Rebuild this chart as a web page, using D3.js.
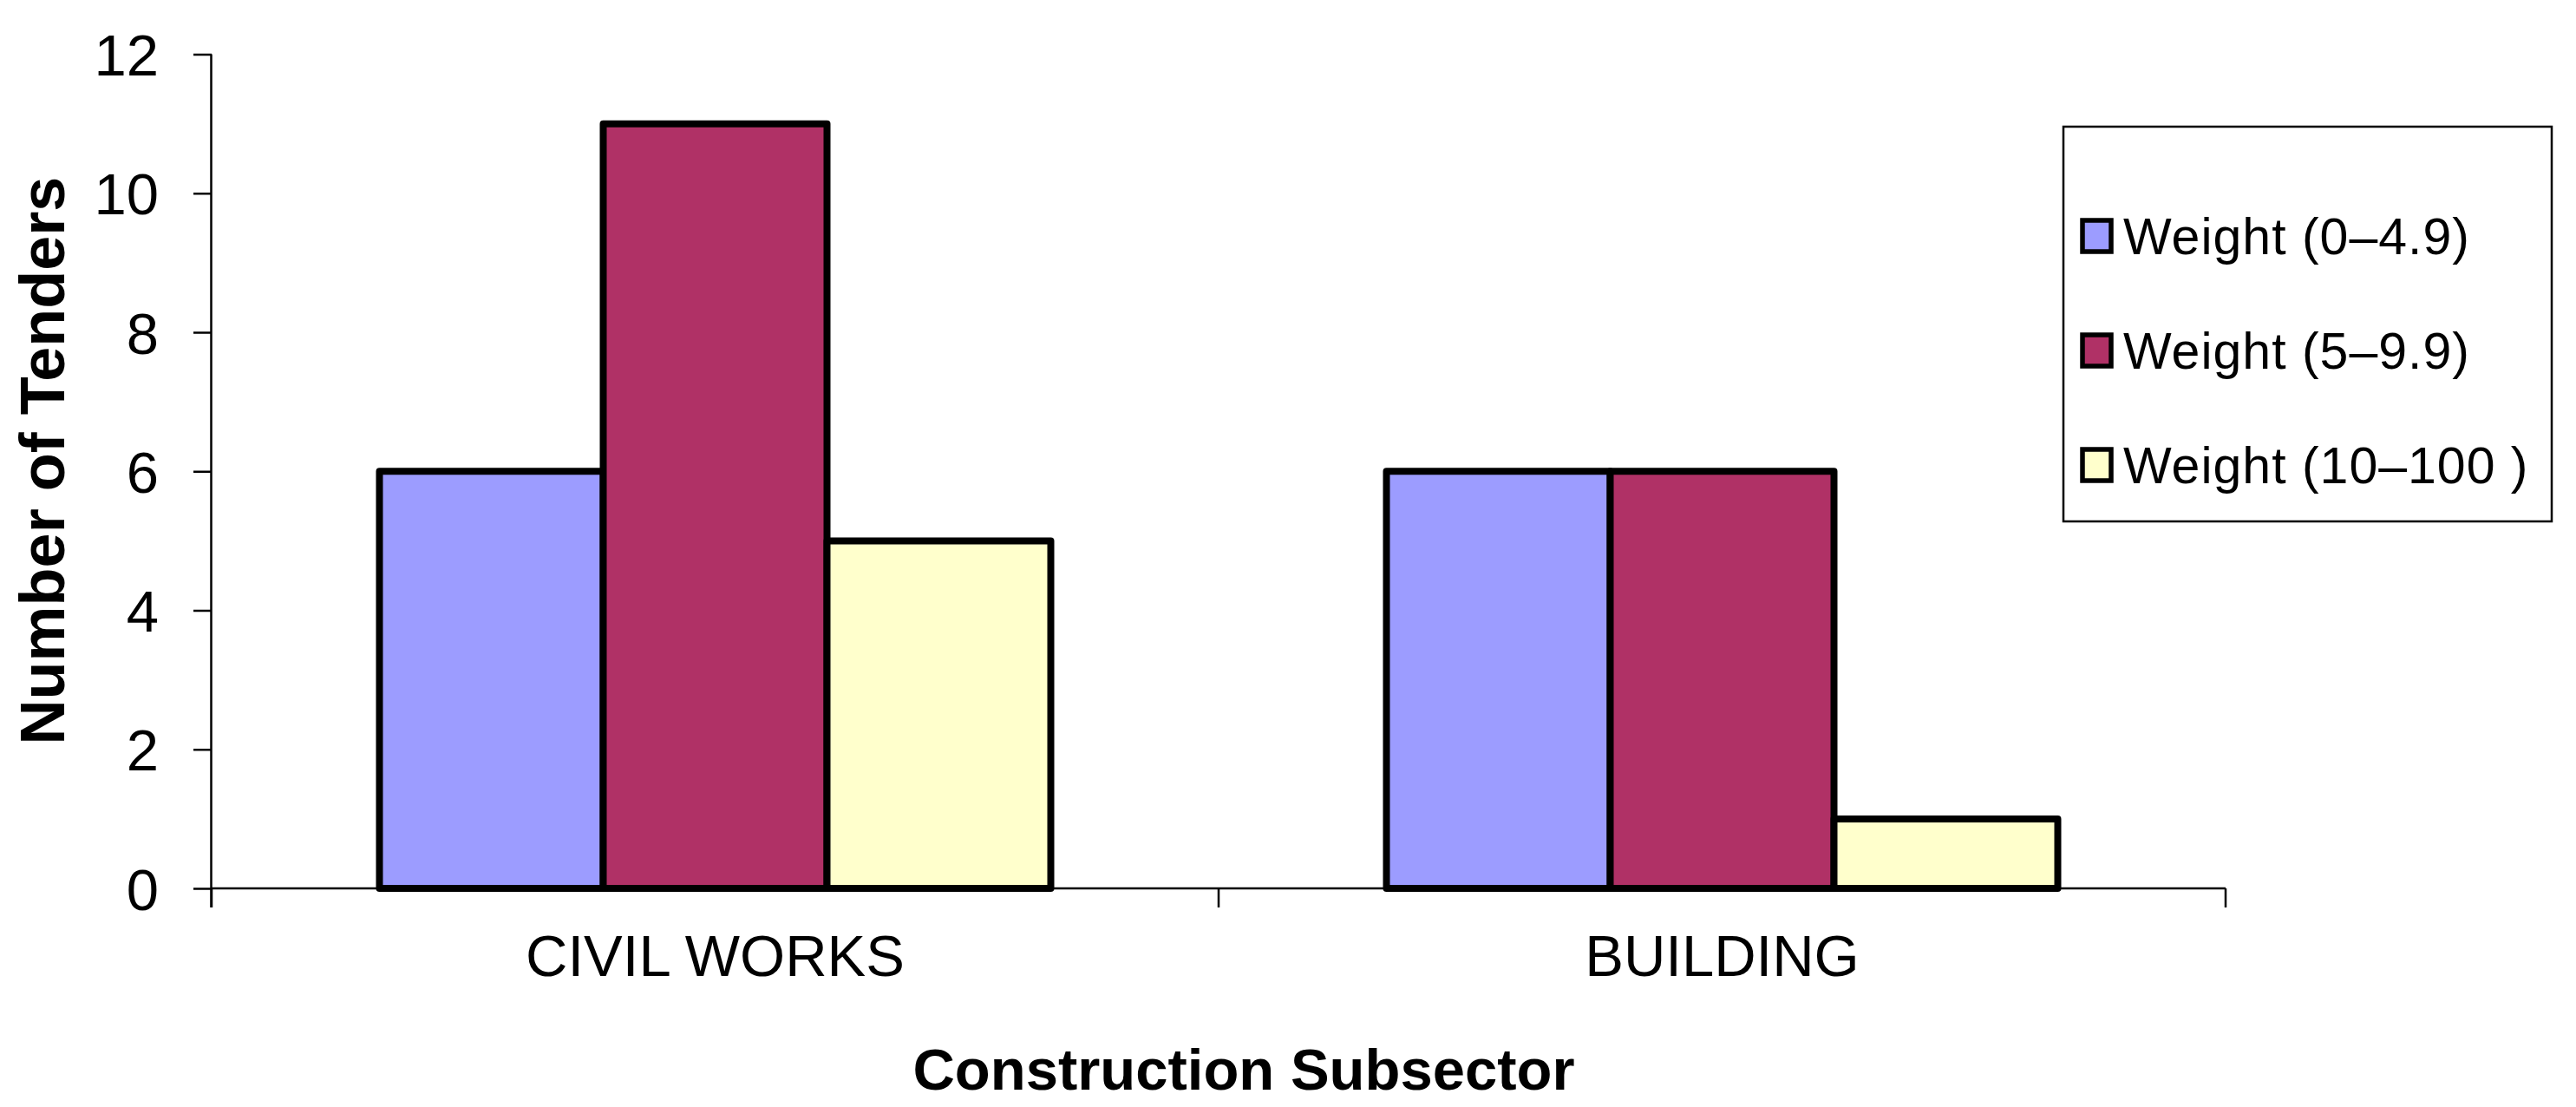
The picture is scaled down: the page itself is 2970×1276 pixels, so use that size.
<!DOCTYPE html>
<html>
<head>
<meta charset="utf-8">
<script src="https://cdn.jsdelivr.net/npm/d3@7"></script>
<style>
  html, body { margin: 0; padding: 0; background: #ffffff; }
  svg { display: block; }
  text { font-family: "Liberation Sans", Arial, sans-serif; fill: #000; }
</style>
</head>
<body>
<svg id="chart" width="2970" height="1276"></svg>
<script>
const categories = ["CIVIL WORKS", "BUILDING"];
const seriesNames = ["Weight (0\u20134.9)", "Weight (5\u20139.9)", "Weight (10\u2013100 )"];
const seriesColors = ["#9C9CFF", "#B03166", "#FFFFCC"];
const weight0to5 = [6, 6];
const weight5to10 = [11, 6];
const weight10to100 = [5, 1];
const yTicks = [0, 2, 4, 6, 8, 10, 12];

const seriesValues = [weight0to5, weight5to10, weight10to100];

const svg = d3.select("#chart");
const plotLeft = 244, plotRight = 2566, plotTop = 62.5, plotBottom = 1024;

const x = d3.scaleBand().domain(categories).range([plotLeft, plotRight]).paddingInner(0).paddingOuter(0);
const y = d3.scaleLinear().domain([0, 12]).range([plotBottom, plotTop]);
const barW = x.bandwidth() / 4.5;
const xs = d3.scaleBand().domain(d3.range(seriesNames.length))
  .range([barW * 0.75, barW * 3.75]).padding(0);

// Y axis
const yAxis = svg.append("g").attr("transform", `translate(${plotLeft},0)`)
  .call(d3.axisLeft(y).tickValues(yTicks).tickSize(21).tickPadding(40).tickFormat(d3.format("d")));
yAxis.select(".domain").attr("stroke", "#000").attr("stroke-width", 2.5)
  .attr("d", `M-0.5,${plotTop}V${plotBottom + 22}`);
yAxis.selectAll(".tick line").attr("stroke", "#000").attr("stroke-width", 2.5);
yAxis.selectAll(".tick text").attr("font-size", 67).attr("dy", "0.36em");

// X axis line and boundary ticks
const xAxisG = svg.append("g");
xAxisG.append("line").attr("x1", plotLeft).attr("x2", plotRight)
  .attr("y1", plotBottom).attr("y2", plotBottom).attr("stroke", "#000").attr("stroke-width", 2.5);
const boundaries = categories.map(c => x(c)).concat([x(categories[categories.length - 1]) + x.bandwidth()]);
xAxisG.selectAll("line.bt").data(boundaries).enter().append("line").attr("class", "bt")
  .attr("x1", d => d).attr("x2", d => d).attr("y1", plotBottom).attr("y2", plotBottom + 22)
  .attr("stroke", "#000").attr("stroke-width", 2.5);
xAxisG.selectAll("text.cl").data(categories).enter().append("text").attr("class", "cl")
  .attr("x", d => x(d) + x.bandwidth() / 2).attr("y", 1125)
  .attr("text-anchor", "middle").attr("font-size", 67).text(d => d);

// Bars
seriesValues.forEach((vals, si) => {
  svg.append("g").selectAll("rect").data(vals).enter().append("rect")
    .attr("x", (d, i) => x(categories[i]) + xs(si))
    .attr("width", xs.bandwidth())
    .attr("y", d => y(d))
    .attr("height", d => y(0) - y(d))
    .attr("fill", seriesColors[si])
    .attr("stroke", "#000").attr("stroke-width", 8).attr("stroke-linejoin", "round");
});

// Axis titles
svg.append("text").attr("x", 1434).attr("y", 1256).attr("text-anchor", "middle")
  .attr("font-size", 67).attr("font-weight", "bold").text("Construction Subsector");
svg.append("text").attr("transform", "translate(74,531) rotate(-90)").attr("text-anchor", "middle")
  .attr("font-size", 72).attr("font-weight", "bold").text("Number of Tenders");

// Legend
const lg = svg.append("g");
lg.append("rect").attr("x", 2379).attr("y", 146).attr("width", 563).attr("height", 455)
  .attr("fill", "#fff").attr("stroke", "#000").attr("stroke-width", 2.5);
const rowY = d3.scalePoint().domain(d3.range(seriesNames.length)).range([272, 536]);
seriesNames.forEach((name, i) => {
  lg.append("rect").attr("x", 2401).attr("y", rowY(i) - 18).attr("width", 33).attr("height", 36)
    .attr("fill", seriesColors[i]).attr("stroke", "#000").attr("stroke-width", 5.5);
  lg.append("text").attr("x", 2448).attr("y", rowY(i) + 21).attr("font-size", 59)
    .attr("letter-spacing", 1).text(name);
});
</script>
</body>
</html>
